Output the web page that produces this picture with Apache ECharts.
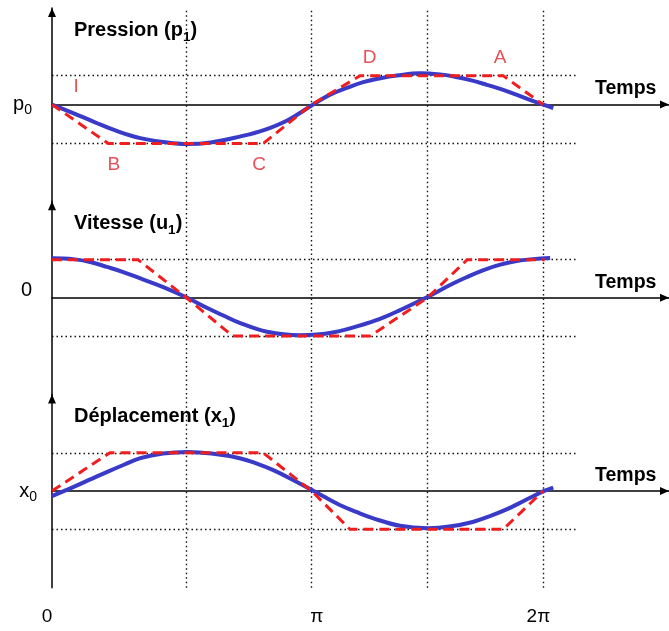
<!DOCTYPE html>
<html><head><meta charset="utf-8">
<script src="https://cdn.jsdelivr.net/npm/echarts@6/dist/echarts.min.js"></script>
<style>html,body{margin:0;padding:0;background:#fff}#c{width:669px;height:631px}</style>
</head><body><div id="c"></div>
<script>
// ---- data (time in radians, amplitudes in arbitrary units) ----
const xMax = 7.89;
const xGridLines = [1.72, 3.32, 4.80, 6.28];
const xTickValues = [0, 3.385, 6.22];
const xTickLabels = ['0', 'π', '2π'];
const levelEnd = 6.73;
const axisName = 'Temps';

const panelTitles = [['Pression (p', '1', ')'], ['Vitesse (u', '1', ')'], ['Déplacement (x', '1', ')']];
const zeroLabels = [['p', '0'], ['0', ''], ['x', '0']];

const pressureCurve = [[0,0],[0.27,-0.22],[0.55,-0.46],[0.85,-0.70],[1.13,-0.87],[1.43,-0.97],[1.73,-1.02],[2.03,-0.98],[2.40,-0.83],[2.70,-0.67],[3.02,-0.40],[3.34,0],[3.55,0.25],[3.77,0.43],[3.98,0.58],[4.20,0.68],[4.41,0.75],[4.71,0.81],[4.96,0.78],[5.15,0.72],[5.35,0.63],[5.56,0.51],[5.77,0.38],[6.11,0.12],[6.41,-0.09]];
const pressureSteps = [[0,0],[0.72,-1.01],[2.70,-1.01],[3.32,0],[3.94,0.745],[5.77,0.745],[6.28,0]];
const pressureLevels = [0.745, -1.01];
const pressureLetters = [['I',0.31,0.47],['B',0.79,-1.57],['C',2.65,-1.57],['D',4.06,1.22],['A',5.73,1.22]];

const velocityCurve = [[0,1.02],[0.27,1.00],[0.50,0.92],[0.70,0.80],[0.92,0.66],[1.13,0.50],[1.43,0.27],[1.73,0],[1.98,-0.26],[2.19,-0.46],[2.40,-0.65],[2.75,-0.88],[3.17,-0.97],[3.59,-0.90],[4.03,-0.66],[4.25,-0.50],[4.45,-0.32],[4.80,0.02],[5.09,0.33],[5.30,0.53],[5.51,0.71],[5.72,0.85],[5.94,0.95],[6.15,1.00],[6.37,1.03]];
const velocitySteps = [[0,0.985],[1.10,0.985],[1.72,0],[2.31,-0.99],[4.07,-0.99],[4.80,0],[5.31,0.985],[6.30,0.985]];
const velocityLevels = [0.985, -0.99];

const displacementCurve = [[0,-0.13],[0.27,0.10],[0.49,0.30],[0.70,0.49],[0.92,0.68],[1.13,0.85],[1.42,0.97],[1.73,1.01],[2.04,0.97],[2.40,0.85],[2.62,0.71],[2.83,0.54],[3.07,0.30],[3.32,0.03],[3.50,-0.17],[3.68,-0.36],[3.89,-0.54],[4.10,-0.70],[4.45,-0.90],[4.81,-0.96],[5.08,-0.92],[5.38,-0.80],[5.60,-0.65],[5.82,-0.47],[6.05,-0.24],[6.28,-0.01],[6.41,0.09]];
const displacementSteps = [[0,0],[0.74,0.99],[2.70,0.99],[3.32,0],[3.81,-0.99],[5.77,-0.99],[6.28,0]];
const displacementLevels = [0.99, -0.99];

// ---- styling ----
const FONT = 'Liberation Sans, Arial, sans-serif';
const BLUE = '#3a3ac8';
const RED = '#f01e1e';
const DOT = {type: [1.5, 3], color: '#111', width: 1.4};
const gridTops = [7.9, 201.15, 394.4];
const gridH = 193.25;

const curves = [pressureCurve, velocityCurve, displacementCurve];
const steps = [pressureSteps, velocitySteps, displacementSteps];
const levels = [pressureLevels, velocityLevels, displacementLevels];

const grid = gridTops.map(t => ({left: 52, right: 0, top: t, height: gridH, outerBoundsMode: 'none'}));

const xAxis = gridTops.map((t, i) => ({
  type: 'value', gridIndex: i, min: 0, max: xMax,
  axisLine: {show: true, onZero: true, symbol: ['none', 'triangle'], symbolSize: [8, 9], symbolOffset: [0, -4.5],
             lineStyle: {color: '#000', width: 1.5}},
  axisTick: {show: false}, axisLabel: {show: false}, splitLine: {show: false},
  name: axisName, nameLocation: 'end', nameGap: -74,
  nameTextStyle: {fontFamily: FONT, fontSize: 19.5, fontWeight: 'bold', color: '#000',
                  verticalAlign: 'bottom', lineHeight: 19, padding: [0, 0, 6, 0]}
}));
xAxis.push({
  type: 'value', gridIndex: 2, min: 0, max: xMax, position: 'bottom',
  axisLine: {show: false, onZero: false}, axisTick: {show: false}, splitLine: {show: false},
  axisLabel: {show: true, customValues: xTickValues, margin: 20, color: '#000', fontFamily: FONT, fontSize: 19,
    formatter: v => { const k = xTickValues.indexOf(v); const s = k >= 0 ? xTickLabels[k] : ''; return k === 0 ? '{z|' + s + '}' : s; },
    rich: {z: {fontFamily: FONT, fontSize: 19, color: '#000', padding: [0, 10, 0, 0]}}}
});

const yAxis = zeroLabels.map((lab, i) => ({
  type: 'value', gridIndex: i, min: -2.5, max: 2.5,
  axisLine: {show: true, onZero: true, symbol: ['none', 'triangle'], symbolSize: [8, 9], symbolOffset: [0, -4.5],
             lineStyle: {color: '#000', width: 1.5}},
  axisTick: {show: false}, splitLine: {show: false},
  axisLabel: {show: true, customValues: [0], margin: i === 2 ? 15 : 20, color: '#000',
    formatter: () => lab[1] ? '{m|' + lab[0] + '}{s|' + lab[1] + '}' : '{z|' + lab[0] + '}',
    rich: {
      m: {fontFamily: FONT, fontSize: 20, color: '#000'},
      s: {fontFamily: FONT, fontSize: 14, color: '#000', padding: [12, 0, 0, 0]},
      z: {fontFamily: FONT, fontSize: 20, color: '#000', padding: [0, 0, 14, 0]}
    }}
}));

const title = panelTitles.map((p, i) => ({
  left: 74, top: gridTops[i] + 9, padding: 0,
  text: '{b|' + p[0] + '}{s|' + p[1] + '}{b|' + p[2] + '}',
  textStyle: {rich: {
    b: {fontFamily: FONT, fontSize: 20, fontWeight: 'bold', color: '#000'},
    s: {fontFamily: FONT, fontSize: 13.5, fontWeight: 'bold', color: '#000', padding: [13, 0, 0, 0]}
  }}
}));

const series = [];
curves.forEach((c, i) => {
  const ml = xGridLines.map(v => ({xAxis: v}))
    .concat(levels[i].map(l => [{coord: [0, l]}, {coord: [levelEnd, l]}]));
  series.push({
    type: 'line', xAxisIndex: i, yAxisIndex: i, data: [], silent: true, z: 1,
    markLine: {silent: true, z: 1, symbol: ['none', 'none'], label: {show: false}, lineStyle: DOT,
               emphasis: {disabled: true}, animation: false, data: ml}
  });
  series.push({
    type: 'line', xAxisIndex: i, yAxisIndex: i, data: c, smooth: 0.4, showSymbol: false, symbol: 'none',
    lineStyle: {color: BLUE, width: 4}, z: 3, silent: true
  });
  series.push({
    type: 'line', xAxisIndex: i, yAxisIndex: i, data: steps[i], smooth: false, showSymbol: false, symbol: 'none',
    lineStyle: {color: RED, width: 3, type: [10, 6]}, z: 4, silent: true
  });
});
series.push({
  type: 'scatter', xAxisIndex: 0, yAxisIndex: 0, symbolSize: 0.1, itemStyle: {color: 'rgba(0,0,0,0)'},
  data: pressureLetters.map(d => ({name: d[0], value: [d[1], d[2]]})), silent: true, z: 5,
  label: {show: true, position: 'inside', formatter: p => p.name, color: '#e0262b', fontFamily: FONT, fontSize: 19}
});

const chart = echarts.init(document.getElementById('c'), null, {renderer: 'canvas'});
chart.setOption({animation: false, backgroundColor: '#fff', title, grid, xAxis, yAxis, series});
</script></body></html>
